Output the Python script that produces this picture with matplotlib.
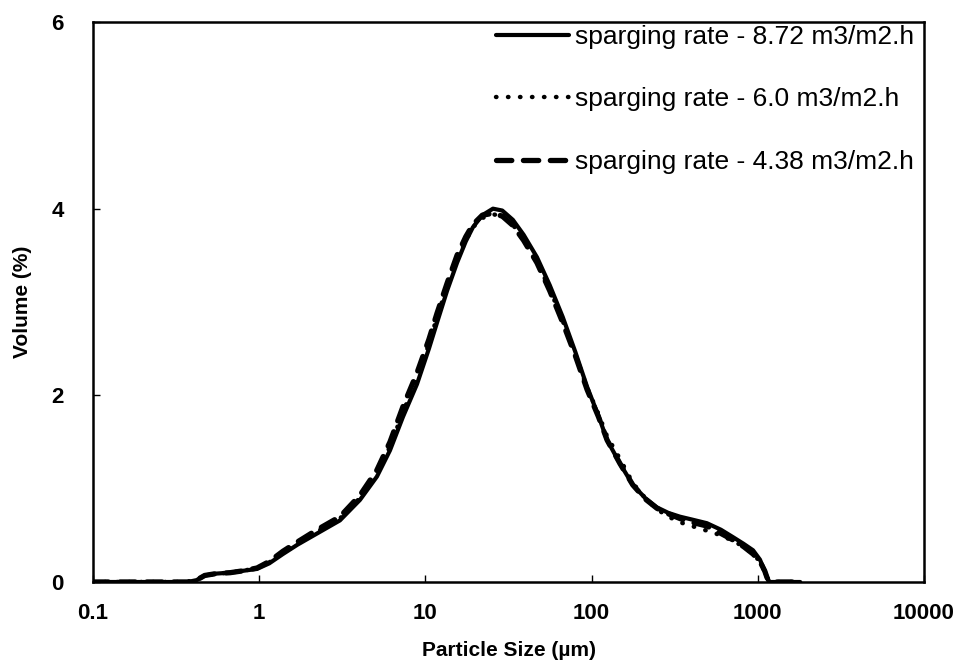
import matplotlib
matplotlib.use("Agg")
import matplotlib.pyplot as plt
from matplotlib.ticker import FixedLocator, FixedFormatter, NullLocator

plt.rcParams['font.family'] = ['Liberation Sans', 'DejaVu Sans']

# particle size (um)
size = [0.1, 0.2, 0.3, 0.37, 0.42, 0.47, 0.55, 0.67, 0.8, 0.97, 1.15, 1.39, 1.7,
        2.23, 3.06, 4.04, 5.11, 6.12, 7.33, 8.9, 10.5, 11.75, 13.5, 15.5, 17.5,
        19.3, 22, 25.5, 29, 33.6, 39, 46.9, 56, 67, 80, 94, 110, 124, 148, 177,
        210, 247, 290, 340, 400, 494, 600, 710, 820, 936, 1030, 1100, 1135, 1175,
        1300, 1500, 1800]

vol_872 = [0, 0, 0, 0, 0.02, 0.07, 0.09, 0.1, 0.12, 0.14, 0.2, 0.3, 0.4,
           0.52, 0.66, 0.88, 1.13, 1.41, 1.77, 2.12, 2.5, 2.78, 3.12, 3.42, 3.65,
           3.80, 3.93, 4.0, 3.98, 3.88, 3.72, 3.48, 3.18, 2.84, 2.46, 2.09, 1.78,
           1.52, 1.27, 1.04, 0.9, 0.80, 0.74, 0.70, 0.67, 0.63, 0.56, 0.48, 0.41,
           0.34, 0.24, 0.12, 0.05, 0, 0, 0, 0]

vol_600 = [0, 0, 0, 0, 0.02, 0.07, 0.09, 0.1, 0.12, 0.15, 0.21, 0.31, 0.41,
           0.54, 0.68, 0.9, 1.16, 1.45, 1.82, 2.18, 2.55, 2.84, 3.16, 3.45, 3.66,
           3.80, 3.90, 3.94, 3.92, 3.83, 3.66, 3.43, 3.14, 2.80, 2.43, 2.08, 1.80,
           1.56, 1.32, 1.06, 0.9, 0.78, 0.70, 0.64, 0.60, 0.55, 0.50, 0.44, 0.38,
           0.30, 0.22, 0.11, 0.04, 0, 0, 0, 0]

vol_438 = [0, 0, 0, 0, 0.02, 0.07, 0.09, 0.1, 0.12, 0.15, 0.22, 0.33, 0.43,
           0.56, 0.70, 0.93, 1.20, 1.50, 1.88, 2.24, 2.60, 2.88, 3.20, 3.50, 3.70,
           3.83, 3.93, 3.95, 3.92, 3.82, 3.66, 3.42, 3.12, 2.78, 2.42, 2.06, 1.77,
           1.52, 1.27, 1.04, 0.89, 0.79, 0.73, 0.68, 0.64, 0.60, 0.52, 0.45, 0.38,
           0.30, 0.22, 0.12, 0.05, 0, 0, 0, 0]

labels = ['sparging rate - 8.72 m3/m2.h',
          'sparging rate - 6.0 m3/m2.h',
          'sparging rate - 4.38 m3/m2.h']

xticks = [0.1, 1, 10, 100, 1000, 10000]
xticklabels = ['0.1', '1', '10', '100', '1000', '10000']
yticks = [0, 2, 4, 6]

fig = plt.figure(figsize=(9.6, 6.66), dpi=100)
ax = fig.add_axes([93/960, 1-582/666, (924-93)/960, (582-22)/666])

ax.plot(size, vol_872, color='black', lw=3.0, solid_capstyle='round', label=labels[0], zorder=3)
ax.plot(size, vol_600, color='black', lw=3.2, linestyle=(0, (0.1, 2.6)),
        dash_capstyle='round', label=labels[1], zorder=4)
ax.plot(size, vol_438, color='black', lw=3.8, linestyle=(0, (2.9, 2.2)),
        dash_capstyle='round', label=labels[2], zorder=2)

ax.set_xscale('log')
ax.set_xlim(0.1, 10000)
ax.set_ylim(0, 6)
ax.xaxis.set_major_locator(FixedLocator(xticks))
ax.xaxis.set_major_formatter(FixedFormatter(xticklabels))
ax.xaxis.set_minor_locator(NullLocator())
ax.set_yticks(yticks)
ax.set_yticklabels([str(v) for v in yticks])

ax.tick_params(axis='both', direction='in', length=5, width=1, labelsize=16)
ax.tick_params(axis='x', pad=15)
ax.tick_params(axis='y', pad=21)
for lab in ax.get_xticklabels() + ax.get_yticklabels():
    lab.set_fontweight('bold')

for sp in ax.spines.values():
    sp.set_linewidth(1.8)

ax.set_xlabel('Particle Size (µm)', fontsize=15, fontweight='bold', labelpad=12)
ax.set_ylabel('Volume (%)', fontsize=15, fontweight='bold', labelpad=14)

leg = ax.legend(loc='upper right', bbox_to_anchor=(1.006, 1.021), frameon=False,
                fontsize=19, handlelength=2.77, handletextpad=0.25,
                labelspacing=1.46, borderaxespad=0.15)

fig.savefig('out.png', dpi=100)
